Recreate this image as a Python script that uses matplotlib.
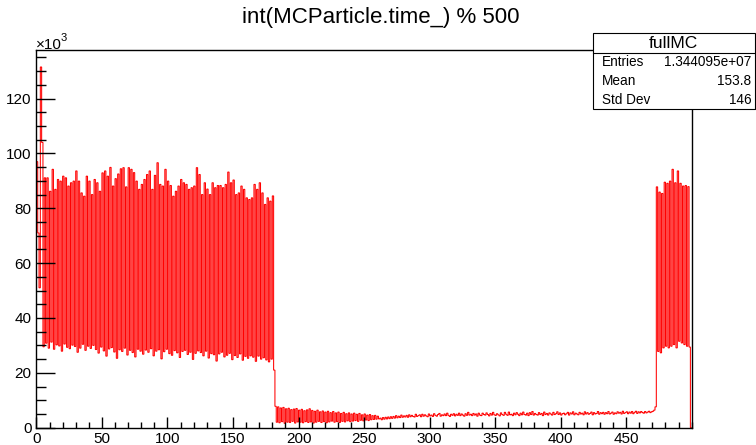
import numpy as np
import matplotlib
matplotlib.use('Agg')
import matplotlib.pyplot as plt
from matplotlib.patches import Rectangle
from matplotlib.lines import Line2D
from matplotlib.ticker import MultipleLocator, FixedLocator

plt.rcParams['font.family'] = ['Liberation Sans', 'DejaVu Sans']

# ---------------- data (counts in thousands, bin width 1, range 0-500) -------------
start_bins = [97.0, 71.0, 51.0, 131.5, 104.0]

main_highs = [91.1, 91.1, 86.2, 94.2, 86.9, 90.5, 89.9, 91.7, 91.1, 88.1, 89.3, 89.9, 93.6, 89.9,
              85.6, 84.4, 91.7, 89.9, 85.0, 90.5, 89.3, 86.2, 92.9, 93.6, 91.7, 94.9, 88.1, 90.8, 92.5,
              94.4, 94.8, 87.8, 94.8, 94.2, 93.0, 89.9, 86.9, 88.7, 90.5, 92.3, 93.6, 86.9, 92.0, 96.6,
              88.7, 88.1, 94.2, 89.9, 88.3, 84.4, 86.2, 88.1, 90.5, 89.3, 88.7, 86.9, 87.5, 88.1, 94.8,
              92.3, 85.0, 89.3,
              87.0, 85.0, 89.3, 87.5, 88.3, 88.3, 87.5, 88.7, 93.2, 89.3, 90.3, 85.0, 85.6, 88.1, 86.9,
              83.8, 83.2, 83.8, 88.7, 86.9, 89.3, 85.6, 81.4, 83.8, 82.6, 84.5]

main_lows = [29.5, 30.8, 29.0, 31.2, 28.6, 30.2, 29.8, 27.9, 30.5, 29.3, 28.8, 30.1, 29.6, 27.5, 29.0,
             30.4, 28.2, 29.7, 28.9, 30.0,
             28.5, 27.2, 29.4, 28.0, 26.1, 28.7, 29.2, 27.6, 25.3, 28.4, 27.8, 29.0, 26.5, 28.2, 27.4,
             25.8, 28.6, 27.9, 26.8, 28.3,
             27.5, 28.8, 26.2, 27.9, 28.4, 25.1, 27.7, 28.6, 27.0, 26.4, 28.1, 27.3, 25.6, 27.8, 28.2,
             26.7, 27.5, 24.9, 27.1, 28.0,
             27.4, 26.2, 27.9, 25.4, 27.0, 26.6, 24.3, 26.9, 27.5, 25.8, 26.4, 27.1, 24.8, 26.3, 25.6,
             26.9, 24.6, 26.0, 25.3, 26.2,
             25.7, 24.2, 26.1, 25.0, 25.5, 24.7, 24.0, 25.0, 21.0]

tail_highs = [7.8, 7.6, 7.2, 7.4, 6.9, 7.1, 6.6, 6.8, 7.0, 6.4, 6.7, 6.2, 6.5, 6.9, 6.3, 6.0, 6.4, 5.8,
              6.1, 5.7, 6.0, 5.5, 5.9, 5.4, 5.7, 5.2, 5.6, 5.1, 5.4, 5.0, 5.3, 4.9, 5.2, 4.7, 5.0, 4.6,
              4.8, 4.4, 4.5, 4.2]
tail_lows = [2.0, 1.8, 2.2, 1.6, 2.0, 1.9, 2.3, 1.7, 2.1, 2.0, 1.8, 2.2, 1.9, 2.1, 1.7, 2.0, 2.3, 1.9,
             2.2, 1.8, 2.1, 2.4, 2.0, 2.2, 1.9, 2.3, 2.1, 2.5, 2.2, 2.4, 2.6, 2.3, 2.7, 2.5, 2.8, 2.6,
             2.9, 3.0, 3.1, 3.2]

flat_bins = [3.5, 2.9, 3.7, 3.1, 3.8, 3.2, 3.9, 3.3, 4.0, 3.4,
             4.1, 3.5, 4.4, 3.6, 4.2, 3.7, 4.6, 3.8, 4.3, 3.9,
             4.5, 3.8, 4.7, 4.0, 4.5, 4.1, 3.9, 4.9, 4.1, 4.4,
             4.7, 4.0, 4.9, 4.2, 4.7, 4.3, 4.0, 5.0, 4.3, 4.6,
             4.1, 5.1, 4.5, 4.2, 4.8, 5.2, 4.2, 4.7, 4.4, 5.0,
             4.4, 5.3, 4.5, 4.1, 4.9, 4.5, 5.1, 4.3, 4.9, 4.5,
             5.3, 4.4, 5.0, 4.6, 4.2, 5.1, 4.5, 5.6, 4.6, 4.9,
             4.4, 5.2, 4.6, 5.0, 4.2, 5.3, 4.6, 4.4, 5.3, 4.8,
             4.6, 5.4, 4.8, 4.3, 5.2, 4.6, 5.6, 4.7, 4.5, 5.1,
             4.7, 4.3, 5.4, 4.8, 4.5, 5.6, 4.9, 4.5, 5.7, 4.7,
             4.9, 4.4, 5.3, 4.7, 5.5, 4.9, 4.4, 5.3, 4.7, 5.7,
             4.8, 4.6, 5.3, 4.4, 5.5, 4.8, 5.9, 4.6, 5.2, 4.8,
             4.6, 5.5, 4.8, 5.2, 4.4, 5.7, 4.8, 5.2, 4.6, 5.4,
             5.0, 4.6, 5.6, 4.8, 5.1, 5.8, 4.8, 5.4, 4.6, 5.1,
             5.3, 4.7, 5.1, 5.6, 4.6, 5.4, 5.0, 5.8, 4.7, 5.3,
             5.0, 4.7, 5.6, 5.0, 5.3, 4.7, 5.8, 5.0, 5.5, 4.9,
             5.2, 5.7, 4.7, 5.5, 5.0, 5.2, 5.9, 4.9, 5.5, 5.1,
             5.6, 4.9, 5.5, 5.1, 5.9, 5.0, 5.3, 5.7, 4.9, 5.4,
             5.1, 5.8, 5.3, 5.6, 5.0, 6.0, 5.2, 5.5, 5.8, 5.1,
             5.7, 5.3, 5.9, 5.1, 5.6, 6.0, 5.2, 5.8, 5.4, 5.9,
             5.5, 5.3, 5.9, 5.4, 5.7, 6.0, 5.5, 5.8, 6.0, 6.4, 7.6]

end_highs = [87.8, 85.9, 85.4, 89.5, 89.1, 89.9, 94.2, 89.3, 93.6, 89.1, 88.1, 88.3, 87.9]
end_lows = [27.8, 27.3, 29.1, 29.7, 29.1, 29.7, 30.3, 29.1, 31.5, 30.9, 30.3, 29.7, 29.4]
last_bins = [0.0]

x_ticks = [0, 50, 100, 150, 200, 250, 300, 350, 400, 450]
y_ticks = [0, 20, 40, 60, 80, 100, 120]

stats_title = "fullMC"
stats_rows = [("Entries", "1.344095e+07"), ("Mean", "153.8"), ("Std Dev", "146")]
title = "int(MCParticle.time_) % 500"


def interleave(first, second):
    out = []
    for i in range(max(len(first), len(second))):
        if i < len(first):
            out.append(first[i])
        if i < len(second):
            out.append(second[i])
    return out


counts = np.array(start_bins
                  + interleave(main_lows, main_highs)
                  + interleave(tail_highs, tail_lows)
                  + flat_bins
                  + interleave(end_highs, end_lows)
                  + last_bins)
edges = np.arange(len(counts) + 1)

# ---------------- figure -------------
W, H = 756, 445
fig = plt.figure(figsize=(W / 100, H / 100), dpi=100)
fig.patch.set_facecolor('white')


def px(x, y):
    return x / W, 1 - y / H


L, R, T, B = 36.4, 691.7, 50.0, 427.7
ax = fig.add_axes([L / W, 1 - B / H, (R - L) / W, (B - T) / H])
st = ax.stairs(counts, edges, color='#ff0000', lw=0.75, baseline=0)
st.set_snap(False)
ax.set_xlim(0, 500)
ax.set_ylim(0, 137.7)

for s in ax.spines.values():
    s.set_linewidth(1.0)
    s.set_color('black')

ax.xaxis.set_major_locator(FixedLocator(x_ticks))
ax.xaxis.set_minor_locator(MultipleLocator(10))
ax.yaxis.set_major_locator(FixedLocator(y_ticks))
ax.yaxis.set_minor_locator(MultipleLocator(5))
ax.set_xticklabels([str(v) for v in x_ticks])
ax.set_yticklabels([str(v) for v in y_ticks])
ax.tick_params(axis='x', which='major', direction='in', length=8, width=1, pad=3,
               labelsize=11, top=False)
ax.tick_params(axis='x', which='minor', direction='in', length=4.2, width=1, top=False)
ax.tick_params(axis='y', which='major', direction='in', length=14, width=1, pad=3.5,
               labelsize=11, right=False)
ax.tick_params(axis='y', which='minor', direction='in', length=7, width=1, right=False)

# exponent label
fig.text(*px(35.5, 48.7), "\u00d710", fontsize=11, ha='left', va='baseline')
fig.text(*px(61.0, 41.0), "3", fontsize=8, ha='left', va='baseline')

# title
fig.text(*px(381, 18), title, fontsize=16, ha='center', va='center')

# stats box
bx0, bx1, by0, by1 = 593.0, 754.5, 32.7, 108.5
shadow = Rectangle(px(bx0 + 1.5, by1 + 1.5), (bx1 - bx0) / W, (by1 - by0) / H,
                   transform=fig.transFigure, facecolor='black', edgecolor='black',
                   lw=0, zorder=9)
fig.add_artist(shadow)
box = Rectangle(px(bx0, by1), (bx1 - bx0) / W, (by1 - by0) / H, transform=fig.transFigure,
                facecolor='white', edgecolor='black', lw=0.8, zorder=10)
fig.add_artist(box)
fig.add_artist(Line2D([bx0 / W, bx1 / W], [1 - 53.3 / H, 1 - 53.3 / H],
                      transform=fig.transFigure, color='black', lw=0.8, zorder=11))
fig.text(*px((bx0 + bx1) / 2, 43), stats_title, fontsize=12.5, ha='center', va='center', zorder=12)
row_y = [62, 81, 100]
for (lab, val), yy in zip(stats_rows, row_y):
    fig.text(*px(601.5, yy), lab, fontsize=9.8, ha='left', va='center', zorder=12)
    fig.text(*px(751.5, yy), val, fontsize=9.8, ha='right', va='center', zorder=12)

fig.savefig('out.png', dpi=100, facecolor='white')
